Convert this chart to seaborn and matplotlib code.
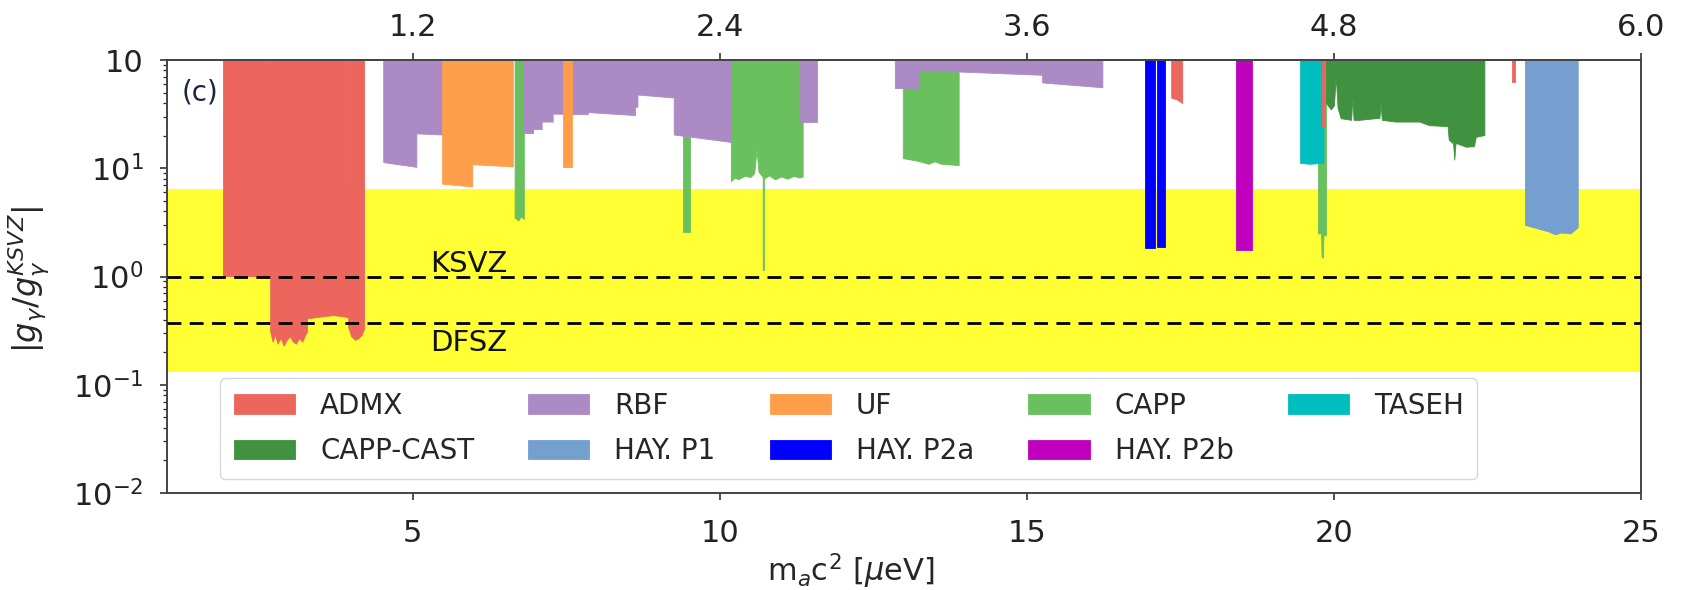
import numpy as np
import matplotlib
matplotlib.use("Agg")
import matplotlib.pyplot as plt
from matplotlib.ticker import FixedLocator, FixedFormatter, LogLocator, NullFormatter
import seaborn as sns

# ---------------- data ----------------
X_RANGE = [1, 25]
Y_RANGE = [1e-2, 1e2]
X_TICKS = [5, 10, 15, 20, 25]
FREQ_TICKS = [1.2, 2.4, 3.6, 4.8, 6.0]          # GHz, top axis
Y_TICKS = [1e-2, 1e-1, 1e0, 1e1, 1e2]
Y_TICK_LABELS = ["$10^{-2}$", "$10^{-1}$", "$10^{0}$", "$10^{1}$", "10"]
GHZ_PER_UEV = 0.24

BAND_LOW, BAND_HIGH = 0.13, 6.4                 # yellow QCD band
KSVZ = 1.0
DFSZ = 0.37

# each experiment: list of segments (x [ueV], excluded-from limit)
ADMX_SEGS = [
    ([1.91, 2.68], [1.02, 1.02]),
    ([2.68, 2.72, 2.76, 2.80, 2.85, 2.90, 2.95, 3.00, 3.05, 3.10, 3.15, 3.20, 3.25, 3.28],
     [0.31, 0.25, 0.29, 0.24, 0.27, 0.23, 0.26, 0.28, 0.25, 0.24, 0.27, 0.25, 0.29, 0.31]),
    ([3.28, 3.40, 3.55, 3.70, 3.85, 3.95], [0.41, 0.42, 0.43, 0.44, 0.43, 0.42]),
    ([3.95, 4.00, 4.06, 4.12, 4.17, 4.21], [0.34, 0.28, 0.26, 0.27, 0.29, 0.33]),
    ([17.35, 17.45, 17.53], [45, 43, 40]),
    ([19.81, 19.85], [24, 24]),
    ([22.90, 22.95], [62, 62]),
]
RBF_SEGS = [
    ([4.52, 5.06, 5.06, 5.48], [11.4, 10.3, 21.0, 20.5]),
    ([6.81, 6.96, 6.96, 7.10, 7.10, 7.28, 7.28, 7.85, 7.85, 8.62, 8.62, 8.66, 8.66, 9.25, 9.25, 10.18],
     [21.2, 21.2, 23.0, 23.0, 27.0, 27.0, 32.0, 31.5, 33.0, 31.0, 37.0, 37.0, 48.0, 45.0, 20.5, 17.5]),
    ([11.30, 11.59], [27.0, 27.0]),
    ([12.85, 13.23, 13.23, 15.25, 15.25, 16.23], [55.0, 55.0, 81.0, 73.0, 62.0, 56.0]),
]
UF_SEGS = [
    ([5.48, 5.97, 5.97, 6.63], [7.2, 6.8, 10.9, 10.4]),
    ([7.44, 7.59], [10.3, 10.3]),
]
CAPP_SEGS = [
    ([6.66, 6.72, 6.76, 6.81], [3.5, 3.3, 3.6, 3.4]),
    ([9.40, 9.51], [2.6, 2.6]),
    ([10.18, 10.25, 10.30, 10.40, 10.50, 10.56, 10.60, 10.63, 10.68, 10.70, 10.70, 10.72, 10.72,
      10.80, 10.90, 11.00, 11.10, 11.20, 11.30, 11.35],
     [7.6, 8.2, 7.9, 8.5, 8.3, 9.0, 14.8, 9.3, 8.6, 8.2, 1.15, 1.15, 8.0,
      8.6, 7.9, 8.4, 8.0, 8.5, 8.2, 8.4]),
    ([12.98, 13.20, 13.40, 13.50, 13.60, 13.89], [12.4, 11.8, 11.0, 11.6, 11.0, 10.7]),
    ([19.74, 19.79, 19.80, 19.82, 19.83, 19.87], [2.5, 2.5, 1.5, 1.5, 2.4, 2.4]),
]
CAPP_CAST_SEGS = [
    ([19.87, 19.95, 20.00, 20.03, 20.06, 20.11, 20.28, 20.30, 20.32, 20.41, 20.68, 20.74, 20.76,
      20.78, 21.00, 21.39, 21.55, 21.85, 21.87, 21.94, 21.96, 21.98, 22.00, 22.15, 22.28, 22.31, 22.45],
     [40.0, 35.0, 38.0, 71.0, 36.0, 29.0, 28.0, 45.0, 28.0, 28.0, 29.0, 29.0, 40.0,
      28.0, 27.0, 27.0, 25.0, 24.5, 18.3, 17.0, 12.0, 17.0, 17.0, 15.8, 16.0, 19.5, 20.3]),
]
TASEH_SEGS = [([19.45, 19.60, 19.83], [11.2, 11.0, 11.2])]
HAYP1_SEGS = [([23.11, 23.30, 23.50, 23.60, 23.70, 23.85, 23.97], [3.0, 2.8, 2.6, 2.45, 2.55, 2.5, 2.85])]
HAYP2A_SEGS = [([16.93, 17.08], [1.84, 1.84]), ([17.12, 17.25], [1.87, 1.87])]
HAYP2B_SEGS = [([18.41, 18.67], [1.75, 1.75])]

EXPERIMENTS = ["ADMX", "RBF", "UF", "CAPP", "TASEH", "CAPP-CAST", "HAY. P1", "HAY. P2a", "HAY. P2b"]
COLORS = {
    "ADMX": "#ec665e", "RBF": "#ac8ac6", "UF": "#ff9e4a", "CAPP": "#6abf5e",
    "TASEH": "#00bebe", "CAPP-CAST": "#409140", "HAY. P1": "#749fce",
    "HAY. P2a": "#0000ff", "HAY. P2b": "#bf00bf",
}
SEGMENTS = {
    "ADMX": ADMX_SEGS, "RBF": RBF_SEGS, "UF": UF_SEGS, "CAPP": CAPP_SEGS,
    "TASEH": TASEH_SEGS, "CAPP-CAST": CAPP_CAST_SEGS, "HAY. P1": HAYP1_SEGS,
    "HAY. P2a": HAYP2A_SEGS, "HAY. P2b": HAYP2B_SEGS,
}
ZORDER = {"CAPP": 2.0, "RBF": 2.1, "UF": 2.2, "ADMX": 2.3, "TASEH": 2.25,
          "CAPP-CAST": 2.1, "HAY. P1": 2.1, "HAY. P2a": 2.1, "HAY. P2b": 2.1}
LEGEND_ORDER = ["ADMX", "CAPP-CAST", "RBF", "HAY. P1", "UF", "HAY. P2a", "CAPP", "HAY. P2b", "TASEH"]

# ---------------- style ----------------
sns.set_theme(style="ticks")
plt.rcParams["font.family"] = ["DejaVu Sans"]
plt.rcParams["mathtext.fontset"] = "dejavusans"
plt.rcParams["axes.edgecolor"] = "#444444"
plt.rcParams["axes.linewidth"] = 1.4

TICK_FS = 22
fig = plt.figure(figsize=(16.82, 5.90), dpi=100)
ax = fig.add_axes([167 / 1682, 1 - 493 / 590, (1641 - 167) / 1682, (493 - 60) / 590])

# QCD band
ax.axhspan(BAND_LOW, BAND_HIGH, color="#ffff33", lw=0, zorder=1)

handles = {}
for name in EXPERIMENTS:
    for i, (xs, ys) in enumerate(SEGMENTS[name]):
        h = ax.fill_between(xs, ys, Y_RANGE[1], facecolor=COLORS[name], edgecolor=COLORS[name],
                            lw=0.6, zorder=ZORDER[name], label=name if i == 0 else None)
        if i == 0:
            handles[name] = h

ax.axhline(KSVZ, color="black", ls=(0, (5, 3)), lw=2.0, zorder=4)
ax.axhline(DFSZ, color="black", ls=(0, (5, 3)), lw=2.0, zorder=4)
ax.annotate("KSVZ", xy=(5.28, KSVZ), xytext=(0, 3), textcoords="offset points",
            ha="left", va="baseline", fontsize=21, color="#111111", zorder=5)
ax.annotate("DFSZ", xy=(5.28, DFSZ), xytext=(0, -4), textcoords="offset points",
            ha="left", va="top", fontsize=21, color="#111111", zorder=5)
ax.text(0.010, 0.958, "(c)", transform=ax.transAxes, ha="left", va="top",
        fontsize=20, color="#1c2440", zorder=5)

ax.set_yscale("log")
ax.set_xlim(*X_RANGE)
ax.set_ylim(*Y_RANGE)
ax.xaxis.set_major_locator(FixedLocator(X_TICKS))
ax.yaxis.set_major_locator(FixedLocator(Y_TICKS))
ax.yaxis.set_major_formatter(FixedFormatter(Y_TICK_LABELS))
ax.yaxis.set_minor_locator(LogLocator(base=10, subs=np.arange(2, 10), numticks=20))
ax.yaxis.set_minor_formatter(NullFormatter())
ax.tick_params(axis="x", which="major", labelsize=TICK_FS, length=5, width=1.1, pad=14, colors="#222222")
ax.tick_params(axis="y", which="major", labelsize=TICK_FS, length=5, width=1.1, pad=12, colors="#222222")
ax.tick_params(axis="y", which="minor", length=3, width=0.9)
for s in ax.spines.values():
    s.set_visible(True)

ax.set_xlabel(r"m$_a$c$^2$ [$\mu$eV]", fontsize=22)
ax.set_ylabel(r"$|g_\gamma/g_\gamma^{KSVZ}|$", fontsize=23)
ax.xaxis.set_label_coords(0.464, -0.136)
ax.yaxis.set_label_coords(-0.079, 0.494)

sec = ax.secondary_xaxis("top", functions=(lambda m: m * GHZ_PER_UEV, lambda f: f / GHZ_PER_UEV))
sec.xaxis.set_major_locator(FixedLocator(FREQ_TICKS))
sec.xaxis.set_major_formatter(FixedFormatter([f"{v:.1f}" for v in FREQ_TICKS]))
sec.tick_params(axis="x", labelsize=TICK_FS, length=5, width=1.1, pad=8, colors="#222222")
sec.spines["top"].set_color("#444444")

leg = ax.legend([handles[n] for n in LEGEND_ORDER], LEGEND_ORDER, ncol=5,
                loc="lower left", bbox_to_anchor=(0.036, 0.032), borderaxespad=0.0,
                fontsize=20, handlelength=2.2, handleheight=0.72, handletextpad=0.9,
                columnspacing=1.95, labelspacing=0.62, borderpad=0.5, frameon=True,
                fancybox=True, framealpha=0.8, edgecolor="#cccccc")
leg.set_zorder(6)

fig.savefig("out.png", dpi=100)
